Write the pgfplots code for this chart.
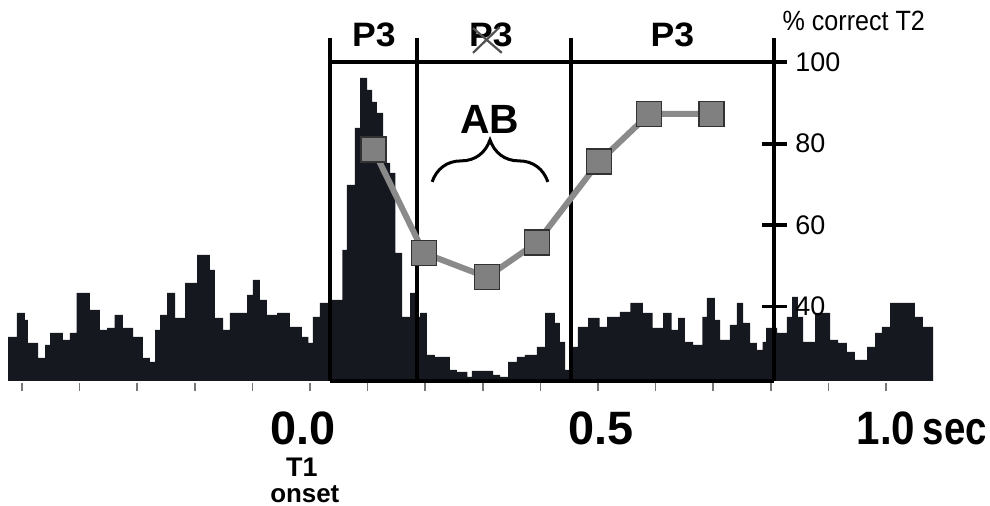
\documentclass[border=0pt]{standalone}
\usepackage{pgfplots}
\pgfplotsset{compat=1.18}
\usepackage{fontspec}
\setmainfont{Liberation Sans}
\usetikzlibrary{decorations.pathreplacing}

\definecolor{hist}{RGB}{22,24,32}
\definecolor{curve}{RGB}{138,138,138}
\definecolor{sqfill}{RGB}{128,128,128}
\definecolor{sqedge}{RGB}{50,50,50}
\definecolor{tickgray}{RGB}{120,120,120}

\pgfplotsset{
  base/.style={scale only axis, width=495bp, height=253bp,
    xmin=-0.538194, xmax=1.180556, hide axis, clip=false,
    at={(0,0)}, anchor=south west},
}

\begin{document}
\begin{tikzpicture}
\useasboundingbox (0,0) rectangle (495bp,253bp);

% histogram (arbitrary units, baseline 0)
\begin{axis}[base, ymin=-125, ymax=381]
\addplot[fill=hist, draw=none, const plot mark left] coordinates {
(-0.524,44) (-0.509,68) (-0.495,61) (-0.490,38) (-0.472,23) (-0.460,36)
(-0.451,48) (-0.429,41) (-0.417,48) (-0.405,88) (-0.382,71) (-0.365,51)
(-0.352,53) (-0.339,66) (-0.325,53) (-0.307,44) (-0.290,23) (-0.278,19)
(-0.269,51) (-0.260,66) (-0.248,88) (-0.234,63) (-0.217,98) (-0.196,126)
(-0.174,111) (-0.165,63) (-0.151,51) (-0.139,68) (-0.109,86) (-0.099,101)
(-0.087,81) (-0.075,66) (-0.057,68) (-0.035,54) (-0.014,44) (-0.003,38)
(0.005,64) (0.017,78) (0.035,81) (0.056,131) (0.064,196) (0.078,253)
(0.087,303) (0.099,291) (0.108,279) (0.116,268) (0.127,218) (0.139,208)
(0.148,128) (0.160,64) (0.174,88) (0.182,64) (0.191,68) (0.203,26)
(0.217,24) (0.243,11) (0.255,9) (0.273,4) (0.281,10) (0.318,6)
(0.330,4) (0.344,19) (0.359,24) (0.373,26) (0.394,34) (0.408,68)
(0.425,58) (0.434,39) (0.443,11) (0.453,34) (0.465,54) (0.483,63)
(0.503,54) (0.516,64) (0.538,69) (0.556,78) (0.578,68) (0.595,53)
(0.613,68) (0.628,51) (0.639,63) (0.651,39) (0.665,36) (0.681,64)
(0.689,83) (0.703,61) (0.712,41) (0.729,56) (0.741,78) (0.752,58)
(0.764,38) (0.776,31) (0.786,39) (0.792,53) (0.811,48) (0.828,64)
(0.837,84) (0.847,64) (0.856,39) (0.877,68) (0.903,41) (0.917,38)
(0.932,29) (0.946,21) (0.967,34) (0.981,48) (0.993,54) (1.007,78)
(1.050,64) (1.064,54) (1.082,54)
} \closedcycle;
\end{axis}

% percent correct T2
\begin{axis}[base, ymin=-9.03, ymax=115.29]
% small time ticks below the histogram
\pgfplotsinvokeforeach{-0.5,-0.4,-0.3,-0.2,-0.1,0,0.1,0.2,0.3,0.4,0.5,0.6,0.7,0.8,0.9,1.0}{
  \draw[tickgray, line width=0.8bp] (axis cs:#1,21.19) -- (axis cs:#1,19.23);
}
% window lines
\draw[line width=1.9bp] (axis cs:0.035,105.96) -- (axis cs:0.035,21.68);
\draw[line width=1.9bp] (axis cs:0.186,105.96) -- (axis cs:0.186,21.68);
\draw[line width=1.9bp] (axis cs:0.453,105.96) -- (axis cs:0.453,21.68);
\draw[line width=1.9bp] (axis cs:0.806,105.96) -- (axis cs:0.806,21.68);
\draw[line width=1.9bp] (axis cs:0.035,100) -- (axis cs:0.828,100);
\draw[line width=2.2bp] (axis cs:0.035,21.68) -- (axis cs:0.806,21.68);
\pgfplotsinvokeforeach{80,60,40}{
  \draw[line width=1.9bp] (axis cs:0.785,#1) -- (axis cs:0.828,#1);
}
% right axis labels
\node[anchor=west, inner sep=0pt] at (axis cs:0.842,100) {\fontsize{13.5}{15}\selectfont 100};
\node[anchor=west, inner sep=0pt] at (axis cs:0.842,80) {\fontsize{13.5}{15}\selectfont 80};
\node[anchor=west, inner sep=0pt] at (axis cs:0.842,60) {\fontsize{13.5}{15}\selectfont 60};
\node[anchor=west, inner sep=0pt] at (axis cs:0.842,40) {\fontsize{13.5}{15}\selectfont 40};
\node[anchor=base, inner sep=0pt] at (axis cs:0.944,107.7) {\scalebox{0.9}[1]{\fontsize{14}{16}\selectfont \% correct T2}};
% window labels
\node[anchor=base, inner sep=0pt] at (axis cs:0.111,103.75) {\scalebox{1.05}[1]{\fontsize{17}{19}\selectfont\bfseries P3}};
\node[anchor=base, inner sep=0pt] at (axis cs:0.314,103.75) {\scalebox{1.05}[1]{\fontsize{17}{19}\selectfont\bfseries P3}};
\node[anchor=base, inner sep=0pt] at (axis cs:0.629,103.75) {\scalebox{1.05}[1]{\fontsize{17}{19}\selectfont\bfseries P3}};
\draw[sqedge!85, line width=1.1bp] (axis cs:0.283,108.4) -- (axis cs:0.333,102.3);
\draw[sqedge!85, line width=1.1bp] (axis cs:0.283,102.3) -- (axis cs:0.329,108.6);
% attentional blink
\node[anchor=base, inner sep=0pt] at (axis cs:0.3125,82.6) {\fontsize{20.5}{22}\selectfont\bfseries AB};
\draw[line width=1.5bp, decorate, decoration={brace, amplitude=21bp}]
  (axis cs:0.212,70.6) -- (axis cs:0.413,70.6);
% time axis labels
\node[anchor=base, inner sep=0pt] at (axis cs:-0.012,5.96) {\fontsize{23.5}{26}\selectfont\bfseries 0.0};
\node[anchor=base, inner sep=0pt] at (axis cs:0.505,5.96) {\fontsize{23.5}{26}\selectfont\bfseries 0.5};
\node[anchor=base, inner sep=0pt] at (axis cs:1.0,5.96) {\scalebox{0.9}[1]{\fontsize{23.5}{26}\selectfont\bfseries 1.0}};
\node[anchor=base east, inner sep=0pt] at (axis cs:1.176,5.96) {\scalebox{0.82}[1]{\fontsize{23.5}{26}\selectfont\bfseries sec}};
\node[anchor=base, inner sep=0pt] at (axis cs:-0.014,-1.9) {\fontsize{13.5}{15}\selectfont\bfseries T1};
\node[anchor=base, inner sep=0pt] at (axis cs:-0.009,-8.29) {\fontsize{13}{15}\selectfont\bfseries onset};
% T2 accuracy by lag
\addplot[curve, line width=3bp, mark=square*, mark size=6.25bp,
  mark options={fill=sqfill, draw=sqedge, line width=0.7bp}] coordinates {
(0.110,78.6) (0.198,53.1) (0.307,47.2) (0.394,55.7) (0.502,75.6) (0.589,87.3) (0.697,87.3)
};
\end{axis}
\end{tikzpicture}
\end{document}
